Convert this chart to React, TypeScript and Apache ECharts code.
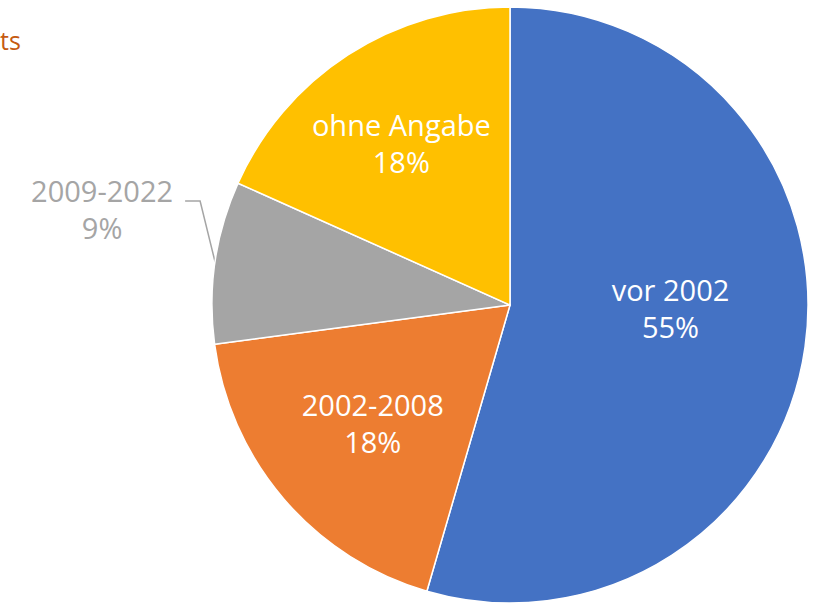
import React, { useEffect, useRef } from "react";
import * as echarts from "echarts";

const categories = ["vor 2002", "2002-2008", "2009-2022", "ohne Angabe"];
const values = [54.5, 18.4, 8.8, 18.3];
const colors = ["#4472C4", "#ED7D31", "#A5A5A5", "#FFC000"];
const insideOffsets: [number, number][] = [[10, -18], [-22, 19], [0, 0], [-26, -34]];
const titleFragment = "ts";

export default function App() {
  const ref = useRef<HTMLDivElement>(null);
  useEffect(() => {
    if (!ref.current) return;
    const chart = echarts.init(ref.current, null, { renderer: "svg" });
    const font = "'Open Sans', 'Noto Sans', sans-serif";
    const data = categories.map((name, i) => {
      const outside = i === 2;
      return {
        name,
        value: values[i],
        itemStyle: { color: colors[i] },
        label: outside
          ? { position: "outside", color: "#A5A5A5", align: "center" }
          : { position: "inside", color: "#FFFFFF", offset: insideOffsets[i] },
        labelLine: { show: outside, length: 20, length2: 15, lineStyle: { color: "#A5A5A5", width: 1.5 } },
      };
    });
    chart.setOption({
      animation: false,
      backgroundColor: "#FFFFFF",
      graphic: [
        {
          type: "text",
          left: 0,
          top: 27,
          style: { text: titleFragment, fill: "#C55A11", fontSize: 25, fontFamily: font },
        },
      ],
      series: [
        {
          type: "pie",
          center: [510, 305],
          radius: [0, 298],
          startAngle: 90,
          clockwise: true,
          percentPrecision: 0,
          avoidLabelOverlap: false,
          itemStyle: { borderColor: "#FFFFFF", borderWidth: 1.5 },
          label: {
            formatter: "{b}\n{d}%",
            fontSize: 29,
            lineHeight: 37,
            fontFamily: font,
          },
          labelLayout: (params: any) => {
            if (params.dataIndex !== 2 || !params.labelLinePoints) return {};
            const p0 = params.labelLinePoints[0];
            return {
              x: p0[0] - 113,
              y: p0[1] - 53,
              align: "center",
              verticalAlign: "middle",
              labelLinePoints: [p0, [p0[0] - 15, p0[1] - 61], [p0[0] - 30, p0[1] - 61]],
            };
          },
          emphasis: { disabled: true },
          data,
        },
      ],
    });
    return () => chart.dispose();
  }, []);
  return <div ref={ref} style={{ position: "fixed", left: 0, top: 0, width: 818, height: 603 }} />;
}
